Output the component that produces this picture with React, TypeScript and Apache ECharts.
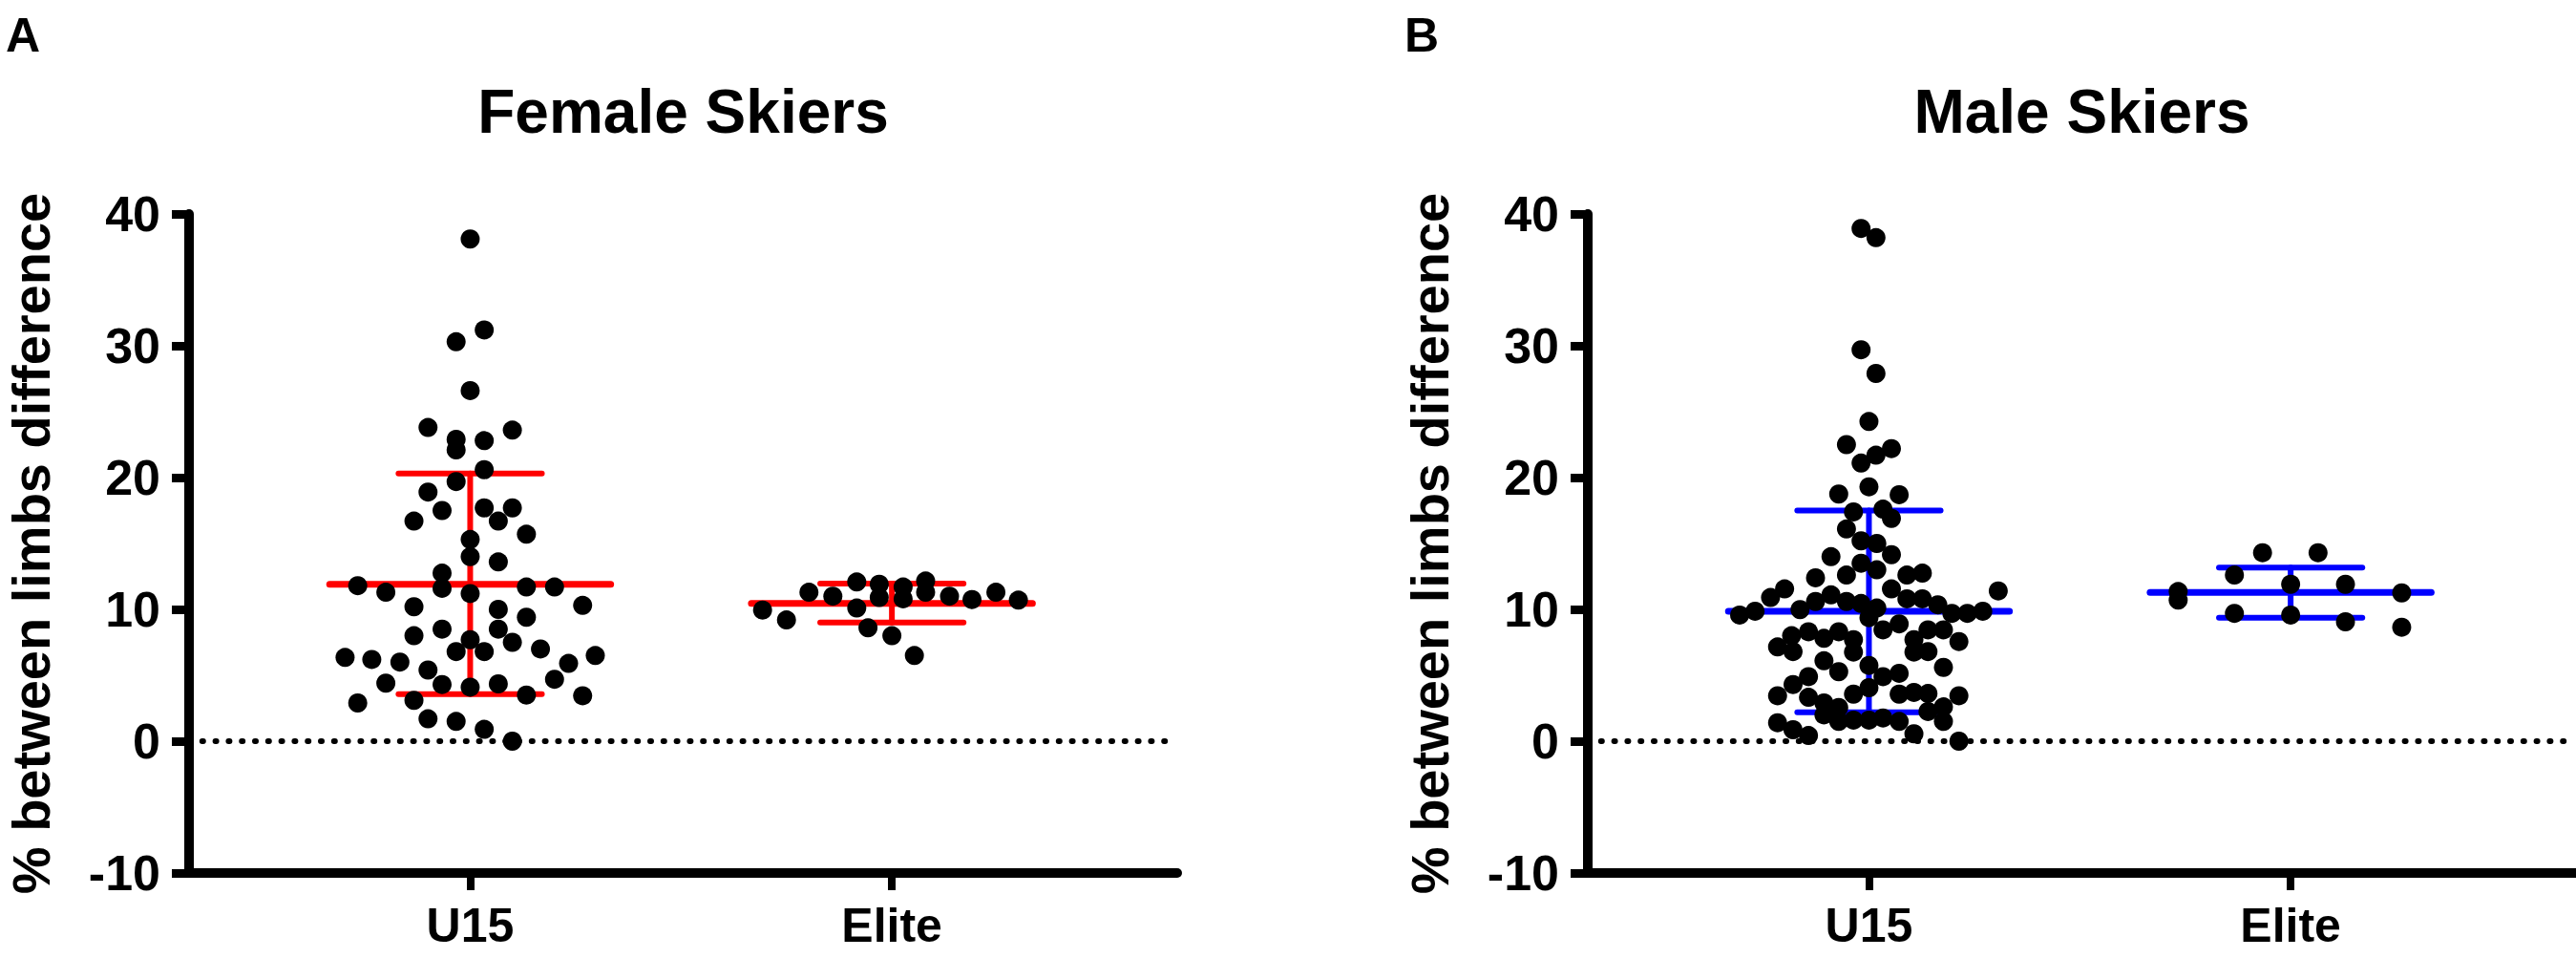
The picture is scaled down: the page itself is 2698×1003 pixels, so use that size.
import React, { useEffect, useRef } from "react";
import * as echarts from "echarts";

// ---------- data ----------
const CATEGORIES = ["U15", "Elite"];
const CATEGORY_X = [2, 5]; // positions of the two groups on the hidden value x axis
const Y_MIN = -10;
const Y_MAX = 40;
const Y_STEP = 10;

// Female skiers, U15: values and beeswarm x-offsets (axis units)
const FEMALE_U15_Y = [
  38.1, 31.2, 30.3, 26.6, 23.8, 23.6, 22.9, 22.8, 22.1, 20.6, 19.7, 18.9, 17.5, 17.7, 17.7,
  16.7, 16.7, 15.7, 15.3, 14.0, 13.6, 12.75, 11.8, 11.6, 11.7, 11.7, 11.3, 11.2, 10.2, 10.3,
  10.0, 9.4, 8.5, 8.5, 8.0, 7.7, 7.5, 6.8, 6.8, 7.0, 6.35, 6.2, 6.0, 6.5, 5.9,
  5.4, 4.4, 4.7, 4.3, 4.1, 4.35, 3.5, 3.45, 2.9, 3.1, 1.7, 1.5, 0.9, 0.0,
];
const FEMALE_U15_DX = [
  0, 0.1, -0.1, 0, -0.3, 0.3, -0.1, 0.1, -0.1, 0.1, -0.1, -0.3, -0.2, 0.1, 0.3,
  -0.4, 0.2, 0.4, 0, 0, 0.2, -0.2, -0.8, -0.2, 0.4, 0.6, -0.6, 0, -0.4, 0.8,
  0.2, 0.4, -0.2, 0.2, -0.4, 0, 0.3, -0.1, 0.1, 0.5, -0.89, -0.7, -0.5, 0.89, 0.7,
  -0.3, -0.6, 0.6, -0.2, 0, 0.2, 0.4, 0.8, -0.8, -0.4, -0.3, -0.1, 0.1, 0.3,
];

// Female skiers, Elite
const FEMALE_ELITE_Y = [
  12.08, 11.9, 11.7, 12.15, 11.3, 11.3, 11.0, 10.9, 10.8, 11.0, 10.75, 11.3, 10.7, 10.1,
  9.95, 9.2, 8.6, 8.0, 6.5,
];
const FEMALE_ELITE_DX = [
  -0.25, -0.09, 0.08, 0.24, 0.24, -0.59, -0.42, -0.09, 0.08, 0.41, 0.57, 0.74, 0.9, -0.25,
  -0.92, -0.75, -0.17, 0, 0.16,
];

// Male skiers, U15
const MALE_U15_Y = [
  38.9, 38.2, 29.7, 27.9, 24.25, 22.5, 22.2, 21.7, 21.1, 19.3, 18.75, 18.7, 17.4, 17.6, 16.9,
  16.1, 15.2, 15.0, 14.15, 14.0, 13.5, 13.0, 12.6, 12.4, 12.6, 12.75, 11.55, 10.9, 11.55, 11.4,
  11.1, 10.6, 10.6, 10.45, 10.8, 10.8, 10.35, 10.1, 9.98, 9.86, 9.57, 9.7, 9.7, 9.86, 9.37,
  8.45, 8.9, 8.0, 8.3, 7.8, 8.3, 7.7, 7.15, 6.8, 6.76, 7.7, 8.45, 8.45, 7.56, 6.8,
  6.76, 6.1, 5.27, 5.75, 5.6, 4.9, 4.3, 4.9, 5.15, 4.06, 3.57, 3.45, 3.33, 3.57, 3.7,
  3.62, 3.45, 2.9, 2.56, 2.25, 2.6, 2.0, 1.5, 1.6, 1.6, 1.76, 1.5, 1.5, 1.4, 0.87,
  0.43, 0.56, 0.0,
];
const MALE_U15_DX = [
  -0.056, 0.05, -0.056, 0.05, 0, -0.16, 0.16, 0.05, -0.056, 0, -0.215, 0.215, -0.11, 0.1, 0.16,
  -0.16, -0.056, 0.056, 0.16, -0.27, -0.056, 0.056, -0.16, -0.38, 0.27, 0.38, -0.6, -0.7, 0.16, 0.92,
  -0.27, -0.38, -0.16, -0.056, 0.27, 0.38, 0.49, 0.056, -0.49, -0.81, -0.92, 0.59, 0.7, 0.81, 0,
  0.1, 0.215, -0.55, -0.43, -0.32, -0.215, -0.11, -0.65, -0.54, -0.11, 0.32, 0.42, 0.53, 0.64, 0.42,
  0.32, -0.32, -0.215, 0, 0.53, -0.43, -0.54, 0.1, 0.215, 0, -0.11, -0.65, -0.43, 0.215, 0.32,
  0.42, 0.64, -0.32, -0.215, 0.42, 0.53, -0.32, -0.215, -0.11, 0, 0.1, 0.215, 0.53, -0.65, -0.54,
  -0.43, 0.32, 0.64,
];

// Male skiers, Elite
const MALE_ELITE_Y = [14.3, 14.3, 12.6, 11.9, 11.9, 11.35, 10.7, 11.25, 9.7, 9.57, 9.06, 8.65];
const MALE_ELITE_DX = [-0.2, 0.195, -0.4, 0, 0.39, -0.8, -0.8, 0.79, -0.4, 0, 0.39, 0.79];

// Mean and SD bars per group [U15, Elite]
const FEMALE_MEAN = [11.9, 10.46];
const FEMALE_SD_LOW = [3.57, 9.0];
const FEMALE_SD_HIGH = [20.3, 11.96];
const MALE_MEAN = [9.86, 11.28];
const MALE_SD_LOW = [2.2, 9.37];
const MALE_SD_HIGH = [17.5, 13.17];

const PANEL_TITLES = ["Female Skiers", "Male Skiers"];
const PANEL_LETTERS = ["A", "B"];
const Y_AXIS_TITLE = "% between limbs difference";

// ---------- style ----------
const FONT = '"Liberation Sans", Arial, Helvetica, sans-serif';
const W = 2698;
const H = 1003;
const GRID_LEFTS = [198, 1663];
const GRID_TOP = 224;
const GRID_W = 1035;
const GRID_H = 690;
const X_MAX = 7.03;
const MEAN_HALF = 1.0;
const SD_HALF = 0.51;
const BAR_COLORS = ["#ff0000", "#0000ff"];

function points(ys: number[], dxs: number[], cx: number) {
  return ys.map((v, i) => [cx + dxs[i], v]);
}

function bars(mean: number[], lo: number[], hi: number[]) {
  return CATEGORY_X.map((cx, i) => [cx, mean[i], lo[i], hi[i]]);
}

function makeErrorSeries(gridIdx: number, data: number[][], color: string) {
  return {
    type: "custom",
    xAxisIndex: gridIdx,
    yAxisIndex: gridIdx,
    z: 2,
    silent: true,
    data,
    encode: { x: 0, y: [1, 2, 3] },
    renderItem: (_params: any, api: any) => {
      const x = api.value(0);
      const m = api.value(1);
      const lo = api.value(2);
      const hi = api.value(3);
      const a1 = api.coord([x - MEAN_HALF, m]);
      const a2 = api.coord([x + MEAN_HALF, m]);
      const b1 = api.coord([x - SD_HALF, hi]);
      const b2 = api.coord([x + SD_HALF, hi]);
      const c1 = api.coord([x - SD_HALF, lo]);
      const c2 = api.coord([x + SD_HALF, lo]);
      const v1 = api.coord([x, lo]);
      const v2 = api.coord([x, hi]);
      const st = (w: number) => ({ stroke: color, lineWidth: w, lineCap: "round", fill: null });
      return {
        type: "group",
        children: [
          { type: "line", shape: { x1: v1[0], y1: v1[1], x2: v2[0], y2: v2[1] }, style: st(6) },
          { type: "line", shape: { x1: b1[0], y1: b1[1], x2: b2[0], y2: b2[1] }, style: st(6) },
          { type: "line", shape: { x1: c1[0], y1: c1[1], x2: c2[0], y2: c2[1] }, style: st(6) },
          { type: "line", shape: { x1: a1[0], y1: a1[1], x2: a2[0], y2: a2[1] }, style: st(7) },
        ],
      };
    },
  };
}

function makeScatter(gridIdx: number, data: number[][], withZero: boolean) {
  const s: any = {
    type: "scatter",
    xAxisIndex: gridIdx,
    yAxisIndex: gridIdx,
    z: 3,
    symbol: "circle",
    symbolSize: 20,
    itemStyle: { color: "#000000", opacity: 1 },
    data,
  };
  if (withZero) {
    s.markLine = {
      z: 1,
      silent: true,
      symbol: "none",
      label: { show: false },
      lineStyle: { type: [1, 12.8], width: 6, color: "#000000", cap: "round" },
      data: [{ yAxis: 0 }],
    };
  }
  return s;
}

export default function App() {
  const ref = useRef<HTMLDivElement>(null);

  useEffect(() => {
    if (!ref.current) return;
    const chart = echarts.init(ref.current, undefined, { renderer: "svg", width: W, height: H });

    const grids = GRID_LEFTS.map((left) => ({
      left,
      top: GRID_TOP,
      width: GRID_W,
      height: GRID_H,
      containLabel: false,
      outerBoundsMode: "none",
    }));

    const xAxes = GRID_LEFTS.map((_, g) => ({
      type: "value",
      gridIndex: g,
      min: 0,
      max: X_MAX,
      splitLine: { show: false },
      axisLine: { show: true, onZero: false, lineStyle: { color: "#000", width: 10 } },
      axisTick: { show: true, customValues: CATEGORY_X, length: 18, lineStyle: { color: "#000", width: 8 } },
      axisLabel: {
        show: true,
        customValues: CATEGORY_X,
        formatter: (v: number) => {
          const i = CATEGORY_X.indexOf(v);
          return i >= 0 ? CATEGORIES[i] : "";
        },
        margin: 30,
        color: "#000",
        fontSize: 50,
        lineHeight: 50,
        fontWeight: "bold",
        fontFamily: FONT,
      },
    }));

    const yAxes = GRID_LEFTS.map((_, g) => ({
      type: "value",
      gridIndex: g,
      min: Y_MIN,
      max: Y_MAX,
      interval: Y_STEP,
      splitLine: { show: false },
      axisLine: { show: true, onZero: false, lineStyle: { color: "#000", width: 10 } },
      axisTick: { show: true, length: 18, lineStyle: { color: "#000", width: 9 } },
      axisLabel: {
        margin: 30,
        color: "#000",
        fontSize: 52,
        fontWeight: "bold",
        fontFamily: FONT,
      },
    }));

    const graphics: any[] = [];
    GRID_LEFTS.forEach((left, g) => {
      graphics.push({
        type: "text",
        x: left + GRID_W / 2,
        y: 117,
        style: {
          text: PANEL_TITLES[g],
          font: `bold 64px ${FONT}`,
          fill: "#000",
          textAlign: "center",
          textVerticalAlign: "middle",
        },
      });
      graphics.push({
        type: "text",
        x: left - 192,
        y: 37,
        style: {
          text: PANEL_LETTERS[g],
          font: `bold 50px ${FONT}`,
          fill: "#000",
          textAlign: "left",
          textVerticalAlign: "middle",
        },
      });
      graphics.push({
        type: "text",
        x: left - 166,
        y: GRID_TOP + GRID_H / 2,
        rotation: Math.PI / 2,
        style: {
          text: Y_AXIS_TITLE,
          font: `bold 56px ${FONT}`,
          fill: "#000",
          textAlign: "center",
          textVerticalAlign: "middle",
        },
      });
    });

    const option: any = {
      animation: false,
      backgroundColor: "#ffffff",
      grid: grids,
      xAxis: xAxes,
      yAxis: yAxes,
      graphic: graphics,
      series: [
        makeErrorSeries(0, bars(FEMALE_MEAN, FEMALE_SD_LOW, FEMALE_SD_HIGH), BAR_COLORS[0]),
        makeScatter(0, points(FEMALE_U15_Y, FEMALE_U15_DX, CATEGORY_X[0]), true),
        makeScatter(0, points(FEMALE_ELITE_Y, FEMALE_ELITE_DX, CATEGORY_X[1]), false),
        makeErrorSeries(1, bars(MALE_MEAN, MALE_SD_LOW, MALE_SD_HIGH), BAR_COLORS[1]),
        makeScatter(1, points(MALE_U15_Y, MALE_U15_DX, CATEGORY_X[0]), true),
        makeScatter(1, points(MALE_ELITE_Y, MALE_ELITE_DX, CATEGORY_X[1]), false),
      ],
    };
    chart.setOption(option);
    return () => chart.dispose();
  }, []);

  return (
    <div
      ref={ref}
      style={{ position: "fixed", left: 0, top: 0, width: W, height: H, background: "#fff" }}
    />
  );
}
